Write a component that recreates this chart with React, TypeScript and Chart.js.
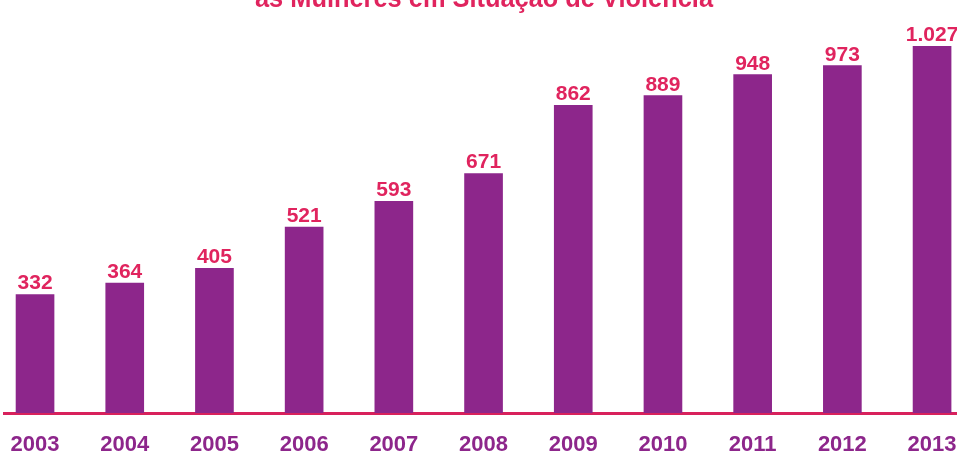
import React, { useEffect, useRef } from "react";
import { Chart, registerables } from "chart.js";

Chart.register(...registerables);

const years = [2003, 2004, 2005, 2006, 2007, 2008, 2009, 2010, 2011, 2012, 2013];
const values = [332, 364, 405, 521, 593, 671, 862, 889, 948, 973, 1027];
const titleText = "as Mulheres em Situação de Violência";

const PURPLE = "#8D268B";
const CRIMSON = "#E0245E";
const LINE = "#D8215C";
const FONT = "'Liberation Sans', Arial, sans-serif";

const fmt = (v: number) =>
  v >= 1000 ? `${Math.floor(v / 1000)}.${String(v % 1000).padStart(3, "0")}` : String(v);

export default function App() {
  const ref = useRef<HTMLCanvasElement | null>(null);

  useEffect(() => {
    document.body.style.margin = "0";
    document.body.style.overflow = "hidden";
    const canvas = ref.current;
    if (!canvas) return;

    const labelPlugin = {
      id: "valueLabels",
      afterDatasetsDraw(chart: any) {
        const ctx = chart.ctx;
        const meta = chart.getDatasetMeta(0);
        ctx.save();
        ctx.fillStyle = CRIMSON;
        ctx.font = `bold 21px ${FONT}`;
        ctx.textAlign = "center";
        ctx.textBaseline = "alphabetic";
        meta.data.forEach((el: any, i: number) => {
          ctx.fillText(fmt(values[i]), el.x, el.y - 5);
        });
        ctx.restore();
      },
    };

    const titlePlugin = {
      id: "cutTitle",
      afterDraw(chart: any) {
        const ctx = chart.ctx;
        ctx.save();
        ctx.fillStyle = CRIMSON;
        ctx.font = `bold 28px ${FONT}`;
        ctx.textAlign = "center";
        ctx.textBaseline = "alphabetic";
        const w = ctx.measureText(titleText).width;
        ctx.translate(484, 7);
        ctx.scale(458 / w, 1);
        ctx.fillText(titleText, 0, 0);
        ctx.restore();
      },
    };

    const chart = new Chart(canvas, {
      type: "bar",
      data: {
        datasets: [
          {
            data: years.map((y, i) => ({ x: y, y: values[i] })),
            backgroundColor: PURPLE,
            borderWidth: 0,
            barThickness: 38,
          },
        ],
      },
      options: {
        responsive: false,
        animation: false,
        layout: { padding: { left: 4, right: 0, top: 0, bottom: 0 } },
        plugins: {
          legend: { display: false },
          tooltip: { enabled: false },
        },
        scales: {
          x: {
            type: "linear",
            offset: false,
            min: 2002.654,
            max: 2013.278,
            z: 1,
            grid: { display: false, drawTicks: false, offset: false },
            border: { display: true, color: LINE, width: 3 },
            afterBuildTicks: (axis: any) => {
              axis.ticks = years.map((value) => ({ value }));
            },
            afterFit: (s: any) => {
              s.height = 40;
              s.paddingLeft = 0;
              s.paddingRight = 0;
            },
            ticks: {
              autoSkip: false,
              maxRotation: 0,
              padding: 19,
              color: PURPLE,
              font: { family: FONT, size: 22, weight: "bold" },
              callback: (v: any) => String(v),
            },
          },
          y: {
            display: false,
            min: 0,
            max: 1157,
          },
        },
      } as any,
      plugins: [labelPlugin, titlePlugin],
    });

    return () => chart.destroy();
  }, []);

  return (
    <div style={{ width: 957, height: 453, background: "#fff" }}>
      <canvas ref={ref} width={957} height={453} style={{ display: "block" }} />
    </div>
  );
}
